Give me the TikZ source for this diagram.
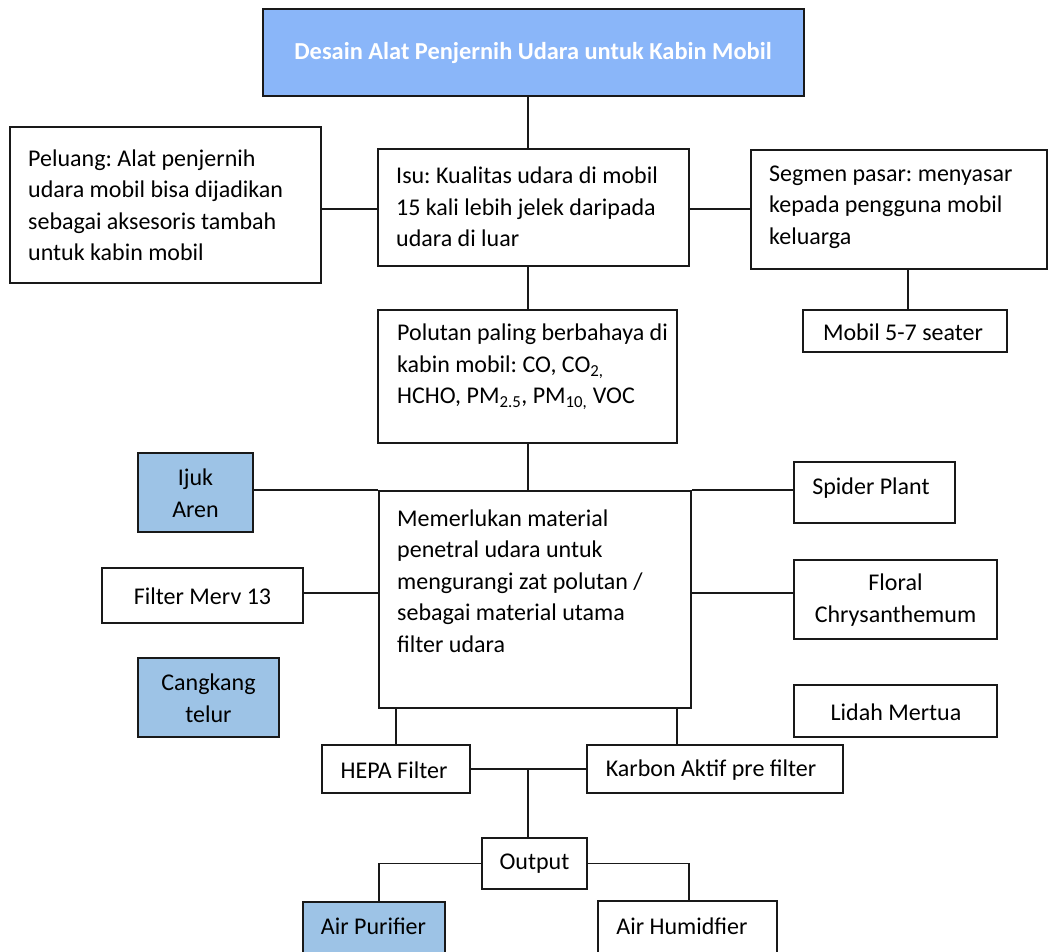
\documentclass[tikz,border=0pt]{standalone}
\usepackage{fontspec}
\setmainfont{Carlito}
\frenchspacing
\definecolor{titleblue}{RGB}{138,182,249}
\definecolor{boxblue}{RGB}{157,195,230}
\definecolor{edge}{RGB}{25,25,25}
\begin{document}
\begin{tikzpicture}[x=1pt,y=-1pt,
  box/.style={draw=edge,line width=1.7pt,fill=white},
  bluebox/.style={box,fill=boxblue},
  conn/.style={draw=edge,line width=1.6pt},
  txt/.style={inner sep=0pt,font=\fontsize{24}{31.5}\selectfont},
  ltxt/.style={txt,align=left,anchor=west},
  ctxt/.style={txt,align=center}]
\useasboundingbox (0,0) rectangle (1057,951);
\fill[white] (0,0) rectangle (1057,951);

\coordinate (cx) at (528,0);
\coordinate (ry1) at (0,209);
\coordinate (ry2) at (0,593);
\coordinate (rhx) at (396,0);
\coordinate (rkx) at (677,0);
\coordinate (rmx) at (908,0);
\coordinate (rpx) at (379,0);
\coordinate (rax) at (689,0);

% boxes
\node[box,fill=titleblue,minimum width=541pt,minimum height=87pt,inner sep=0pt] (title) at (533.5,52.5) {};
\node[box,minimum width=311pt,minimum height=156pt,inner sep=0pt] (peluang) at (165.5,205) {};
\node[box,minimum width=311pt,minimum height=117pt,inner sep=0pt] (isu) at (533.5,207.5) {};
\node[box,minimum width=296pt,minimum height=119pt,inner sep=0pt] (segmen) at (899,209.5) {};
\node[box,minimum width=204pt,minimum height=42pt,inner sep=0pt] (mobil) at (905,331) {};
\node[box,minimum width=299pt,minimum height=133pt,inner sep=0pt] (polutan) at (527.5,376.5) {};
\node[box,minimum width=312pt,minimum height=217pt,inner sep=0pt] (mem) at (535,599.5) {};
\node[bluebox,minimum width=115pt,minimum height=79pt,inner sep=0pt] (ijuk) at (195.5,492.5) {};
\node[box,minimum width=201pt,minimum height=55pt,inner sep=0pt] (merv) at (202.5,595.5) {};
\node[bluebox,minimum width=141pt,minimum height=79pt,inner sep=0pt] (cangkang) at (208.5,697.5) {};
\node[box,minimum width=161pt,minimum height=61pt,inner sep=0pt] (spider) at (874.5,492.5) {};
\node[box,minimum width=203pt,minimum height=79pt,inner sep=0pt] (floral) at (895.5,599.5) {};
\node[box,minimum width=203pt,minimum height=52pt,inner sep=0pt] (lidah) at (895.5,711) {};
\node[box,minimum width=148pt,minimum height=48pt,inner sep=0pt] (hepa) at (396,769) {};
\node[box,minimum width=256pt,minimum height=48pt,inner sep=0pt] (karbon) at (715,769) {};
\node[box,minimum width=105pt,minimum height=51pt,inner sep=0pt] (output) at (534.5,863.5) {};
\node[bluebox,minimum width=142pt,minimum height=56pt,inner sep=0pt] (airpur) at (374,930) {};
\node[box,minimum width=179pt,minimum height=56pt,inner sep=0pt] (airhum) at (687.5,929) {};

% connector lines
\draw[conn] (title.south -| cx) -- (isu.north -| cx);
\draw[conn] (peluang.east |- ry1) -- (isu.west |- ry1);
\draw[conn] (isu.east |- ry1) -- (segmen.west |- ry1);
\draw[conn] (segmen.south -| rmx) -- (mobil.north -| rmx);
\draw[conn] (isu.south -| cx) -- (polutan.north -| cx);
\draw[conn] (polutan.south -| cx) -- (mem.north -| cx);
\draw[conn] (ijuk.east |- mem.north) -- (mem.north west);
\draw[conn] (mem.north east) -- (spider.west |- mem.north);
\draw[conn] (merv.east |- ry2) -- (mem.west |- ry2);
\draw[conn] (mem.east |- ry2) -- (floral.west |- ry2);
\draw[conn] (mem.south -| rhx) -- (hepa.north -| rhx);
\draw[conn] (mem.south -| rkx) -- (karbon.north -| rkx);
\draw[conn] (hepa.east) -- (karbon.west);
\coordinate (junc) at (hepa.east -| cx);
\draw[conn] (junc) -- (output.north -| cx);
\draw[conn] (output.west) -| (airpur.north -| rpx);
\draw[conn] (output.east) -| (airhum.north -| rax);

% texts
\node[ctxt,text=white,font=\fontsize{24.4}{31.5}\selectfont\bfseries] (ttitle) at (533,53) {Desain Alat Penjernih Udara untuk Kabin Mobil};
\node[ltxt] (tpeluang) at (28,205) {Peluang: Alat penjernih\\udara mobil bisa dijadikan\\sebagai aksesoris tambah\\untuk kabin mobil};
\node[ltxt] (tisu) at (396,207) {Isu: Kualitas udara di mobil\\15 kali lebih jelek daripada\\udara di luar};
\node[ltxt] (tsegmen) at (769,207) {Segmen pasar: menyasar\\kepada pengguna mobil\\keluarga};
\node[ctxt] (tmobil) at (903,332) {Mobil 5-7 seater};
\node[ltxt] (tpolutan) at (397,367) {Polutan paling berbahaya di\\kabin mobil: CO, CO\textsubscript{2,}\\HCHO, PM\textsubscript{2.5}, PM\textsubscript{10,} VOC};
\node[ltxt] (tmem) at (397,581) {Memerlukan material\\penetral udara untuk\\mengurangi zat polutan /\\sebagai material utama\\filter udara};
\node[ctxt] (tijuk) at (195.5,493) {Ijuk\\Aren};
\node[ctxt] (tmerv) at (202.5,596) {Filter Merv 13};
\node[ctxt] (tcangkang) at (208.5,698) {Cangkang\\telur};
\node[ctxt] (tspider) at (871,488) {Spider Plant};
\node[ctxt] (tfloral) at (895.5,600) {Floral\\Chrysanthemum};
\node[ctxt] (tlidah) at (896,712) {Lidah Mertua};
\node[ctxt] (thepa) at (394,770) {HEPA Filter};
\node[ctxt] (tkarbon) at (711,770) {Karbon Aktif pre filter};
\node[ctxt] (toutput) at (534.5,864) {Output};
\node[ctxt] (tairpur) at (373.5,926) {Air Purifier};
\node[ctxt] (tairhum) at (682,926) {Air Humidfier};
\end{tikzpicture}
\end{document}
